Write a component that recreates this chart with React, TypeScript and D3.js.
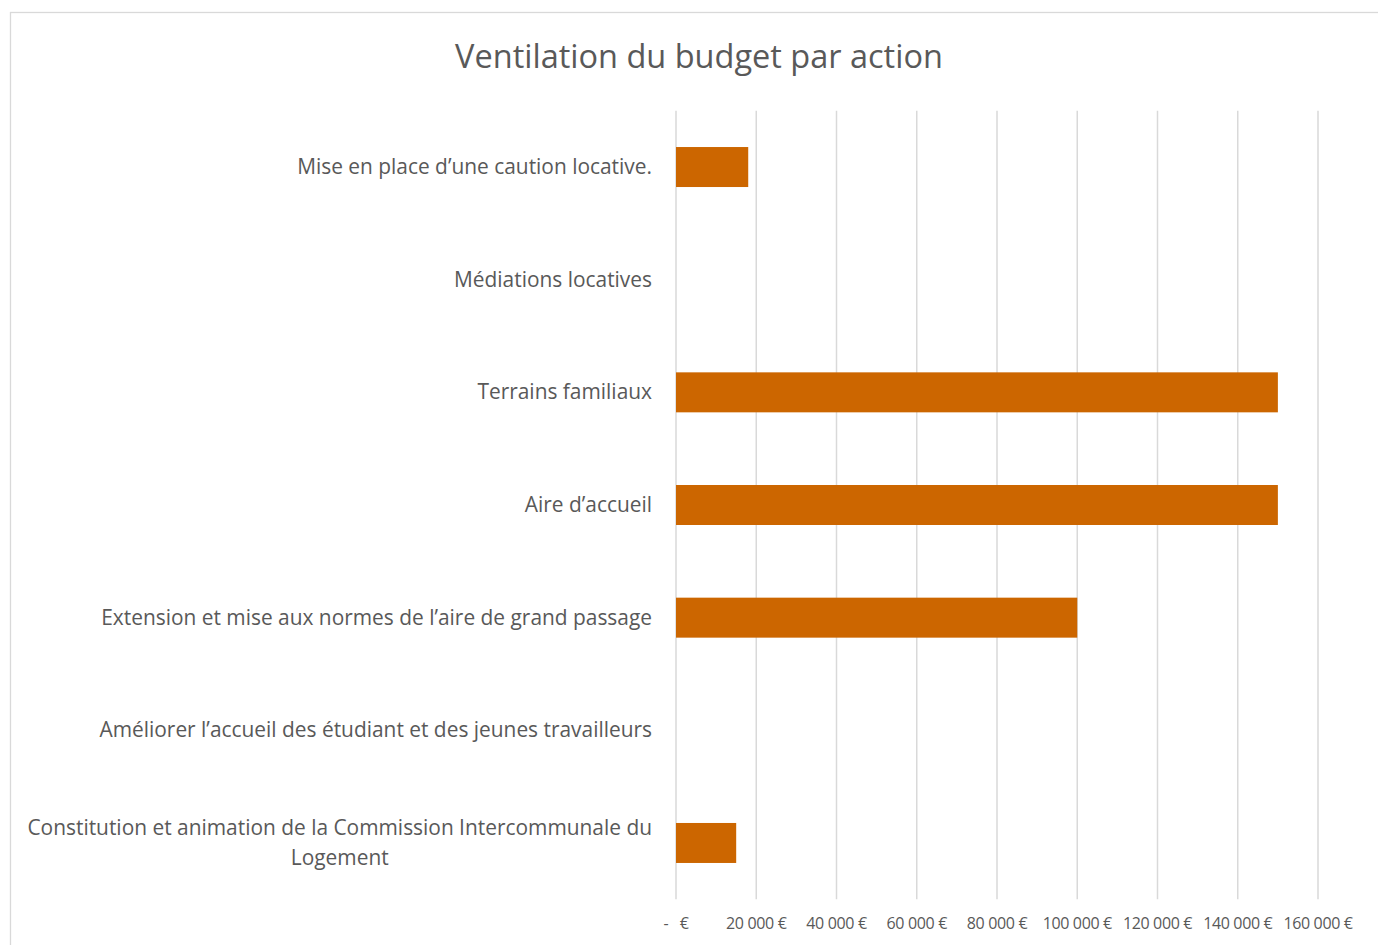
import { useEffect, useRef } from "react";
import * as d3 from "d3";

const categories = [
  "Mise en place d’une caution locative.",
  "Médiations locatives",
  "Terrains familiaux",
  "Aire d’accueil",
  "Extension et mise aux normes de l’aire de grand passage",
  "Améliorer l’accueil des étudiant et des jeunes travailleurs",
  "Constitution et animation de la Commission Intercommunale du|Logement",
];
const budget = [18000, 0, 150000, 150000, 100000, 0, 15000];
const ticks = [0, 20000, 40000, 60000, 80000, 100000, 120000, 140000, 160000];

const fmt = (v: number) =>
  v === 0 ? "-   €" : d3.format(",")(v).replace(/,/g, " ") + " €";

export default function App() {
  const ref = useRef<SVGSVGElement>(null);

  useEffect(() => {
    const svg = d3.select(ref.current);
    svg.selectAll("*").remove();
    const W = 1378, H = 945;
    const left = 676, right = 1318, top = 110.7, bottom = 899.3;
    const font = "'Open Sans', sans-serif";
    const grey = "#595959";

    svg.append("rect").attr("x", 10.5).attr("y", 12.5).attr("width", W).attr("height", H)
      .attr("fill", "#fff").attr("stroke", "#d9d9d9").attr("stroke-width", 1.3);

    svg.append("text").attr("x", 699).attr("y", 68).attr("text-anchor", "middle")
      .attr("font-family", font).attr("font-size", 32.5).attr("fill", grey)
      .text("Ventilation du budget par action");

    const x = d3.scaleLinear().domain([0, 160000]).range([left, right]);
    const y = d3.scaleBand().domain(categories).range([top, bottom]).paddingInner(0.645).paddingOuter(0.3225);

    svg.append("g").selectAll("line").data(ticks).join("line")
      .attr("x1", (d) => x(d)).attr("x2", (d) => x(d))
      .attr("y1", top).attr("y2", bottom)
      .attr("stroke", "#d9d9d9").attr("stroke-width", 1.5);

    svg.append("g").selectAll("rect").data(budget).join("rect")
      .attr("x", x(0)).attr("y", (_, i) => y(categories[i])!)
      .attr("width", (d) => x(d) - x(0)).attr("height", y.bandwidth())
      .attr("fill", "#cc6600");

    svg.append("g").selectAll("text").data(ticks).join("text")
      .attr("x", (d) => x(d)).attr("y", 929).attr("text-anchor", "middle")
      .attr("font-family", font).attr("font-size", 16).attr("fill", grey)
      .attr("letter-spacing", -0.35)
      .style("white-space", "pre")
      .text(fmt);

    const labels = svg.append("g");
    categories.forEach((c) => {
      const lines = c.split("|");
      const cy = y(c)! + y.bandwidth() / 2;
      const lh = 30;
      const t = labels.append("text").attr("font-family", font).attr("font-size", 20.9).attr("fill", grey);
      lines.forEach((l, j) => {
        t.append("tspan").attr("x", 652)
          .attr("y", cy + 7 + (j - (lines.length - 1) / 2) * lh).text(l);
      });
      if (lines.length === 1) {
        t.attr("text-anchor", "end");
      } else {
        const w = (t.node() as SVGTextElement).getBBox().width;
        t.attr("text-anchor", "middle");
        t.selectAll("tspan").attr("x", 652 - w / 2);
      }
    });
  }, []);

  return (
    <svg ref={ref} width={1378} height={945}
      style={{ position: "absolute", left: 0, top: 0, background: "#fff" }} />
  );
}
